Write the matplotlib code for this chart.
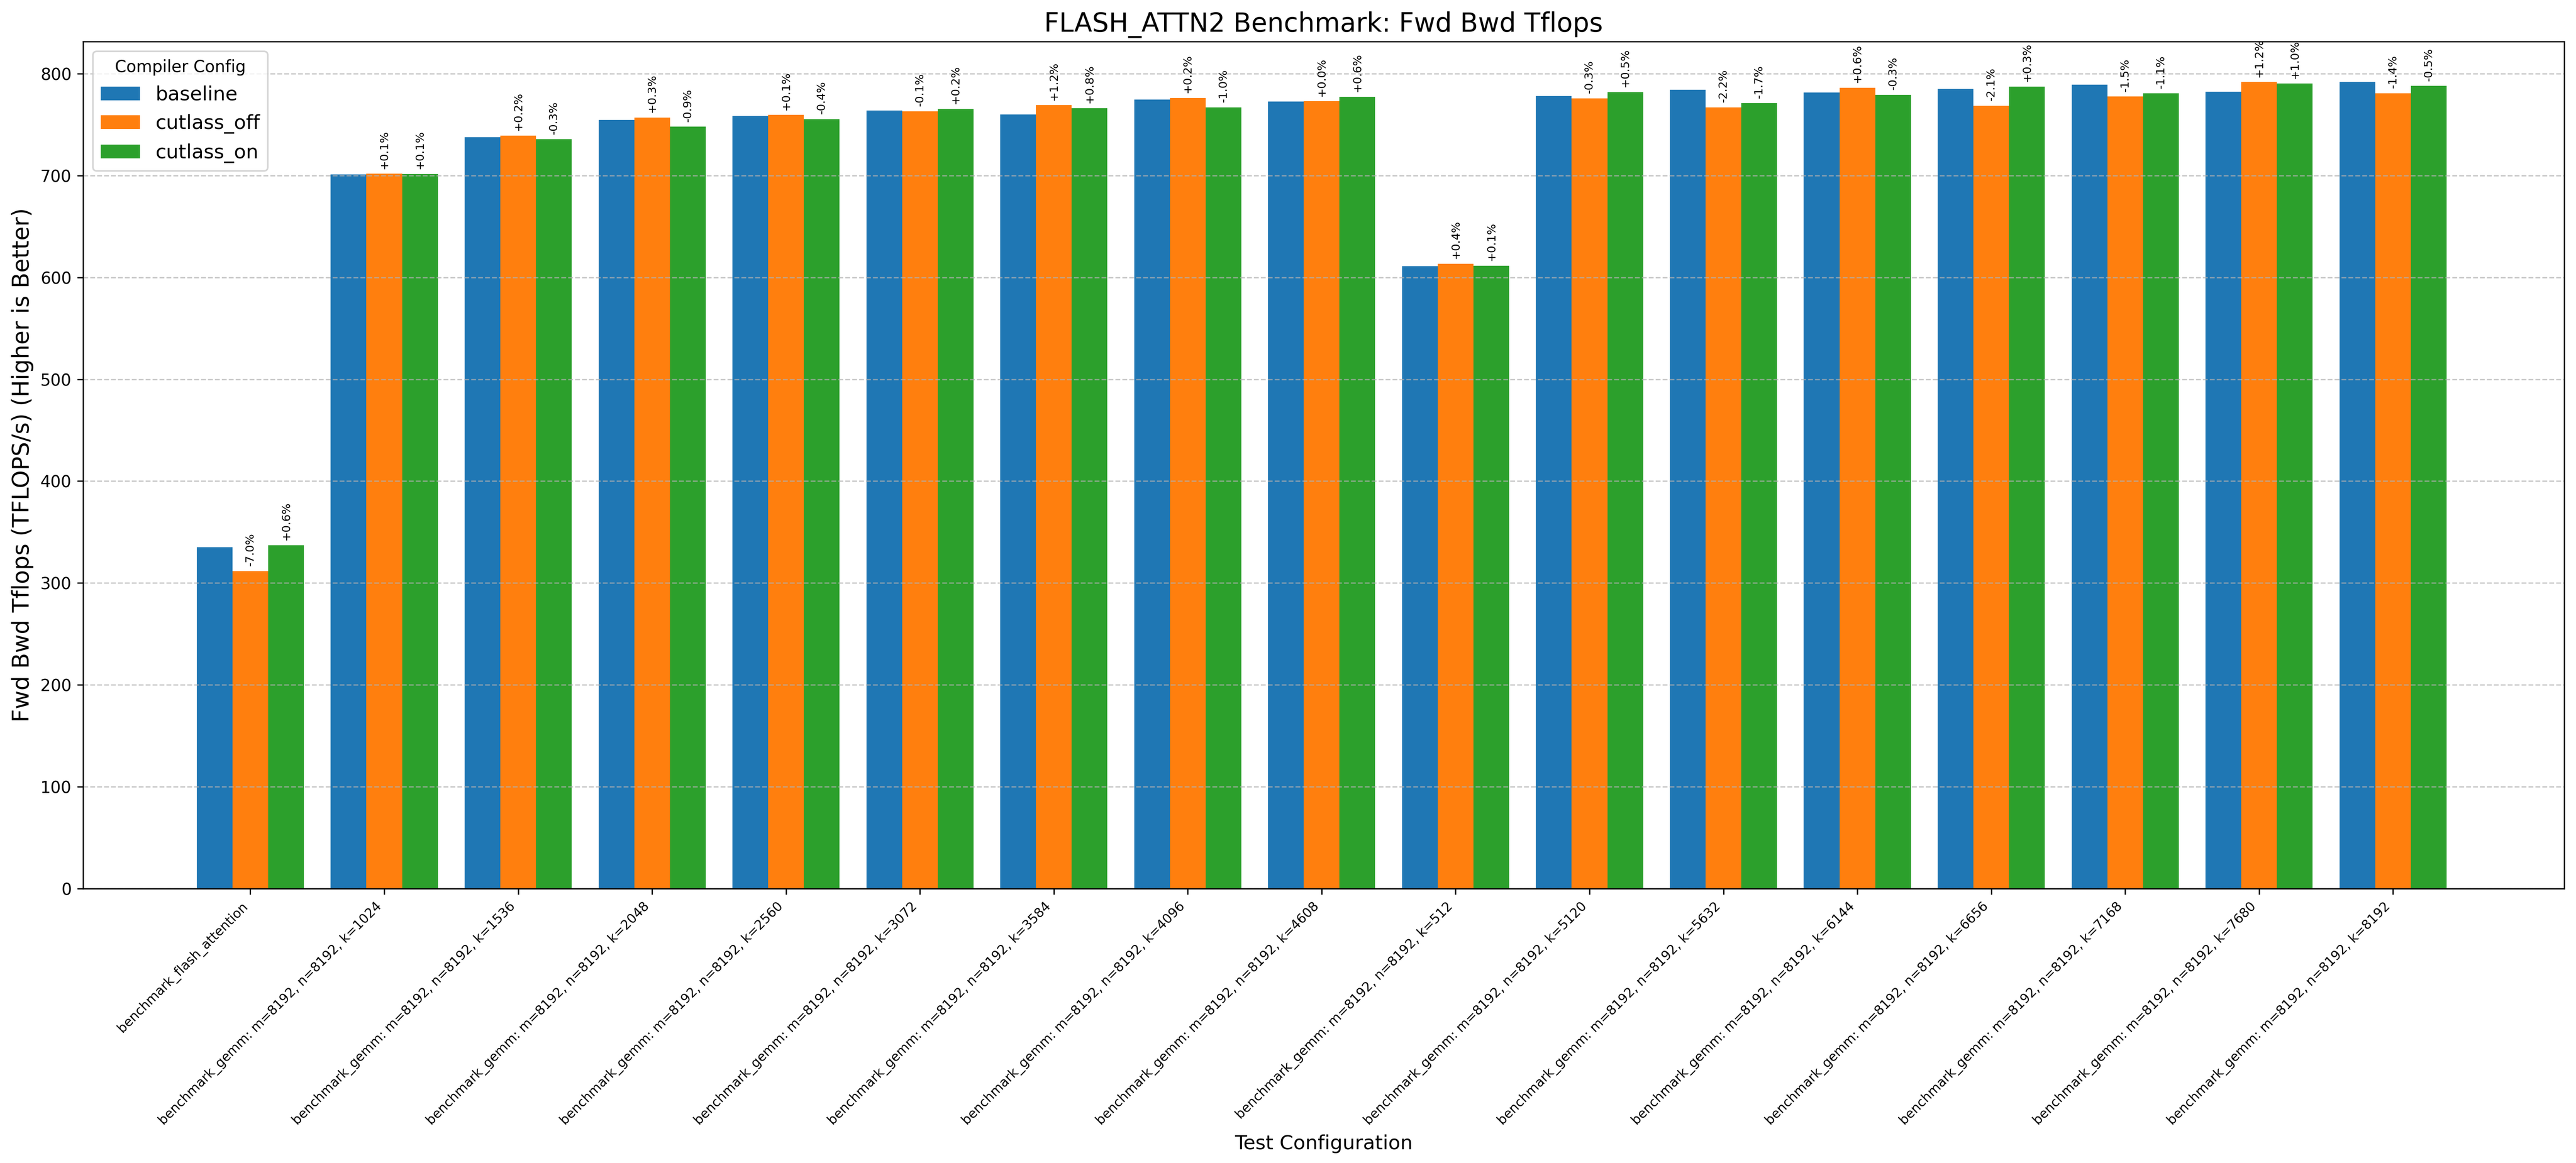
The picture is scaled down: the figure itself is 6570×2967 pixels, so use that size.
import numpy as np
from matplotlib import pyplot as plt

# test configs (x axis)
tests = [
    "benchmark_flash_attention",
    "benchmark_gemm: m=8192, n=8192, k=1024",
    "benchmark_gemm: m=8192, n=8192, k=1536",
    "benchmark_gemm: m=8192, n=8192, k=2048",
    "benchmark_gemm: m=8192, n=8192, k=2560",
    "benchmark_gemm: m=8192, n=8192, k=3072",
    "benchmark_gemm: m=8192, n=8192, k=3584",
    "benchmark_gemm: m=8192, n=8192, k=4096",
    "benchmark_gemm: m=8192, n=8192, k=4608",
    "benchmark_gemm: m=8192, n=8192, k=512",
    "benchmark_gemm: m=8192, n=8192, k=5120",
    "benchmark_gemm: m=8192, n=8192, k=5632",
    "benchmark_gemm: m=8192, n=8192, k=6144",
    "benchmark_gemm: m=8192, n=8192, k=6656",
    "benchmark_gemm: m=8192, n=8192, k=7168",
    "benchmark_gemm: m=8192, n=8192, k=7680",
    "benchmark_gemm: m=8192, n=8192, k=8192",
]

configs = ["baseline", "cutlass_off", "cutlass_on"]

# Fwd Bwd Tflops per config
baseline = [335.2, 701.0, 737.8, 754.7, 758.6, 764.0, 760.1, 774.7, 772.8,
            611.0, 778.2, 784.3, 781.6, 785.1, 789.3, 782.4, 792.0]
cutlass_off = [311.7, 701.8, 739.3, 757.0, 759.5, 763.2, 769.2, 776.2, 772.9,
               613.4, 775.9, 767.0, 786.3, 768.6, 777.5, 791.8, 780.9]
cutlass_on = [337.2, 701.6, 735.6, 748.0, 755.5, 765.5, 766.2, 767.0, 777.4,
              611.6, 782.1, 771.0, 779.3, 787.5, 780.6, 790.2, 788.0]


def main():
    series = [baseline, cutlass_off, cutlass_on]
    colors = ["#1f77b4", "#ff7f0e", "#2ca02c"]

    fig = plt.figure(figsize=(6570 / 300, 2967 / 300))
    ax = fig.add_axes([0.0322, 0.2360, 0.9633, 0.7283])

    x = np.arange(len(tests))
    width = 0.8 / len(configs)

    for i, (name, vals) in enumerate(zip(configs, series)):
        pos = x + (i - 1) * width
        ax.bar(pos, vals, width, label=name, color=colors[i])

        # percent change vs baseline
        if i > 0:
            for xp, v, b in zip(pos, vals, baseline):
                pct = (v - b) / b * 100
                ax.annotate(f"{pct:+.1f}%", (xp, v), xytext=(0, 3),
                            textcoords="offset points", ha="center",
                            va="bottom", rotation=90, fontsize=7)

    ax.set_xlim(-1.25, 17.28)
    ax.set_xticks(x)
    ax.set_xticklabels(tests, rotation=45, ha="right", fontsize=8)
    ax.set_xlabel("Test Configuration", fontsize=12)
    ax.set_ylabel("Fwd Bwd Tflops (TFLOPS/s) (Higher is Better)", fontsize=14)
    ax.set_title("FLASH_ATTN2 Benchmark: Fwd Bwd Tflops", fontsize=16)
    ax.grid(axis="y", linestyle="--", alpha=0.7)
    ax.legend(title="Compiler Config", fontsize=12, loc="upper left")

    fig.savefig("out.png", dpi=300)
    plt.close(fig)


if __name__ == "__main__":
    main()
